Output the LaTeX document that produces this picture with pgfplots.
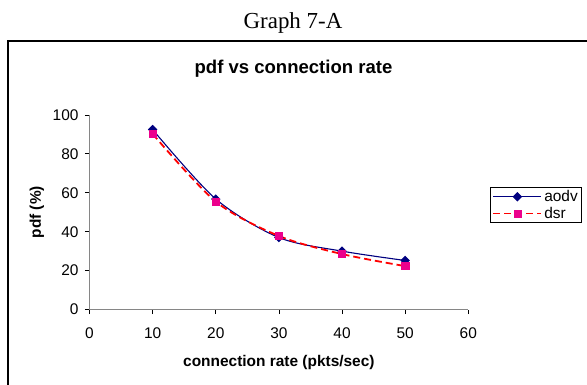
\documentclass[border=0pt]{standalone}
\usepackage{pgfplots}
\pgfplotsset{compat=1.18}
\usepackage{fontspec}
\setmainfont{Liberation Sans}
\newfontfamily\timesfont{Liberation Serif}
\definecolor{navyc}{RGB}{0,0,128}
\definecolor{axgray}{RGB}{134,134,134}
\newcommand{\lgf}{\fontsize{15.5}{18}\selectfont}
\begin{document}
\begin{tikzpicture}
\useasboundingbox (0bp,0bp) rectangle (587bp,385bp);
\draw[line width=1.5bp] (8bp,-2bp) -- (8bp,344bp) -- (590bp,344bp);
\node[anchor=base, inner sep=0pt, font=\timesfont\fontsize{23}{26}\selectfont] at (293bp,356bp) {Graph 7-A};
\node[anchor=base, inner sep=0pt, font=\bfseries\fontsize{18.6}{22}\selectfont] at (293.5bp,311bp) {pdf vs connection rate};
\begin{axis}[
  at={(89.5bp,75.5bp)}, anchor=south west,
  scale only axis, width=378.8bp, height=194.5bp,
  xmin=0, xmax=60, ymin=0, ymax=100,
  axis lines=left,
  axis line style={-, draw=axgray, line width=1.5bp},
  xtick={0,10,...,60}, ytick={0,20,...,100},
  tick align=outside, major tick length=4.5bp,
  tick style={black, line width=0.8bp},
  ticklabel style={font=\lgf},
  xticklabel style={yshift=-10bp},
  yticklabel style={xshift=-3bp},
  /pgf/number format/assume math mode=true,
  xlabel={connection rate (pkts/sec)},
  ylabel={pdf (\%)},
  label style={font=\bfseries\lgf},
  xlabel style={at={(axis description cs:0.5,-0.2956)}, anchor=base},
  ylabel style={at={(axis description cs:-0.1386,0.5)}, anchor=center},
  legend style={at={(axis description cs:1.0573,0.63)}, anchor=north west,
    draw=black, line width=1bp, font=\lgf,
    inner xsep=2bp, inner ysep=1bp, row sep=0bp,
    nodes={inner sep=2bp}},
  legend cell align=left,
  legend image code/.code={%
    \draw[#1] (0bp,0bp) -- (48bp,0bp);
    \draw[#1, only marks] plot coordinates {(24bp,0bp)};},
  clip=false,
]
\addplot[navyc, line width=1.1bp, smooth, mark=square*, mark size=2.8bp,
  mark options={solid, rotate=45, fill=navyc, draw=navyc}]
  coordinates {(10,92.5) (20,56.8) (30,37) (40,30) (50,25.2)};
\addlegendentry{aodv}
\addplot[red, line width=1.8bp, smooth, dash pattern=on 7bp off 4bp, mark=square*, mark size=3.6bp,
  mark options={solid, fill=magenta, draw=magenta, line width=0.5bp}]
  coordinates {(10,90.3) (20,55.5) (30,37.8) (40,28.5) (50,22.3)};
\addlegendentry{dsr}
\end{axis}
\end{tikzpicture}
\end{document}
